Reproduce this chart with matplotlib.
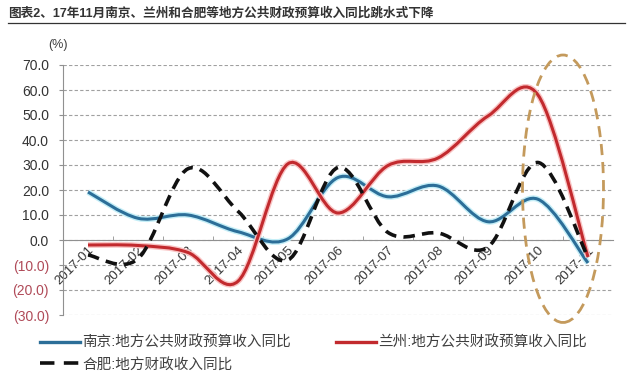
import numpy as np
import matplotlib
matplotlib.use('Agg')
import matplotlib.pyplot as plt
from matplotlib.path import Path
from matplotlib.patches import PathPatch, Ellipse
from matplotlib.lines import Line2D
import matplotlib.patheffects as pe

plt.rcParams['font.family'] = ['Liberation Sans', 'Noto Sans CJK SC', 'DejaVu Sans']

months = ['2017-01', '2017-02', '2017-03', '2017-04', '2017-05', '2017-06',
          '2017-07', '2017-08', '2017-09', '2017-10', '2017-11']
nanjing = [19.2, 8.7, 10.0, 3.3, 0.5, 25.0, 17.3, 21.6, 7.3, 16.3, -9.2]
lanzhou = [-2.0, -2.2, -5.0, -16.5, 30.5, 10.8, 29.8, 32.8, 49.6, 58.0, -6.8]
hefei = [-6.0, -7.5, 28.5, 11.5, -8.0, 29.0, 3.0, 2.8, -2.8, 31.0, -7.0]
yticks = [-30, -20, -10, 0, 10, 20, 30, 40, 50, 60, 70]

title = '图表2、17年11月南京、兰州和合肥等地方公共财政预算收入同比跳水式下降'
names = ['南京:地方公共财政预算收入同比', '兰州:地方公共财政预算收入同比', '合肥:地方财政收入同比']


def smooth_path(ys):
    # excel-like smoothed line: bezier segments through every point
    pts = np.column_stack([np.arange(len(ys)), ys]).astype(float)
    n = len(pts)
    verts = [pts[0]]
    codes = [Path.MOVETO]
    for i in range(n - 1):
        p0 = pts[i - 1] if i > 0 else pts[i]
        p1, p2 = pts[i], pts[i + 1]
        p3 = pts[i + 2] if i + 2 < n else pts[i + 1]
        verts += [p1 + (p2 - p0) / 6, p2 - (p3 - p1) / 6, p2]
        codes += [Path.CURVE4] * 3
    return Path(verts, codes)


fig = plt.figure(figsize=(6.37, 3.77), dpi=100)
ax = fig.add_axes([63 / 637, 1 - 315 / 377, 550 / 637, 250 / 377])

ax.set_xlim(-0.5, len(months) - 0.5)
ax.set_ylim(-30, 70)
ax.set_yticks(yticks)
ax.set_yticklabels([f'({abs(v):.1f})' if v < 0 else f'{v:.1f}' for v in yticks], fontsize=10)
for lab, v in zip(ax.get_yticklabels(), yticks):
    lab.set_color('#B04A58' if v < 0 else '#333333')
ax.grid(axis='y', color='#A0A0A0', linestyle=(0, (3, 2)), linewidth=0.8)
ax.tick_params(axis='y', length=3, color='#909090', pad=7)

for s in ['top', 'right']:
    ax.spines[s].set_visible(False)
ax.spines['left'].set_color('#909090')
ax.spines['bottom'].set_position(('data', 0))
ax.spines['bottom'].set_color('#909090')

ax.set_xticks(range(len(months)))
ax.set_xticklabels(months, rotation=45, ha='right', va='top', fontsize=9.5, color='#333333',
                   rotation_mode='anchor')
ax.tick_params(axis='x', length=0, pad=3)
ax.set_xticks(np.arange(0.5, len(months) - 0.5), minor=True)
ax.tick_params(axis='x', which='minor', length=3, direction='in', color='#909090')

styles = [
    (nanjing, '#2C6E98', '#C4EEF7', '-'),
    (lanzhou, '#C22A2E', '#F9C4C4', '-'),
    (hefei, '#111111', None, (0, (3.2, 2))),
]
for ys, col, glow, ls in styles:
    patch = PathPatch(smooth_path(ys), fill=False, edgecolor=col, linewidth=2.2,
                      linestyle=ls, capstyle='butt', zorder=3)
    if glow:
        patch.set_path_effects([pe.Stroke(linewidth=4.2, foreground=glow), pe.Normal()])
    else:
        patch.set_linewidth(2.6)
    ax.add_patch(patch)

ell = Ellipse((9.5, 20.5), 1.62, 107, fill=False, edgecolor='#C49A5C', linewidth=2,
              linestyle=(0, (4, 2.5)), clip_on=False, zorder=4)
ax.add_patch(ell)

fig.text(48 / 637, 1 - 45 / 377, '(%)', fontsize=9, color='#404040', va='center')

fig.text(8 / 637, 1 - 13 / 377, title, fontsize=9.1, fontweight='bold', color='#333333', va='center')
fig.add_artist(Line2D([8 / 637, 625 / 637], [1 - 23 / 377] * 2, color='#333333', linewidth=0.9))

handles = [
    Line2D([], [], color='#2C6E98', linewidth=2.4),
    Line2D([], [], color='#111111', linewidth=2.6, linestyle=(0, (4, 2.6))),
    Line2D([], [], color='#C22A2E', linewidth=2.4),
]
fig.legend(handles, [names[0], names[2], names[1]], ncol=2, frameon=False, fontsize=10.5,
           loc='upper left', bbox_to_anchor=(40 / 637, 1 - 336 / 377), handlelength=2.75,
           handletextpad=0.15, columnspacing=3.1, labelspacing=0.5, borderaxespad=0,
           borderpad=0, labelcolor='#404040')

fig.savefig('out.png', dpi=100)
